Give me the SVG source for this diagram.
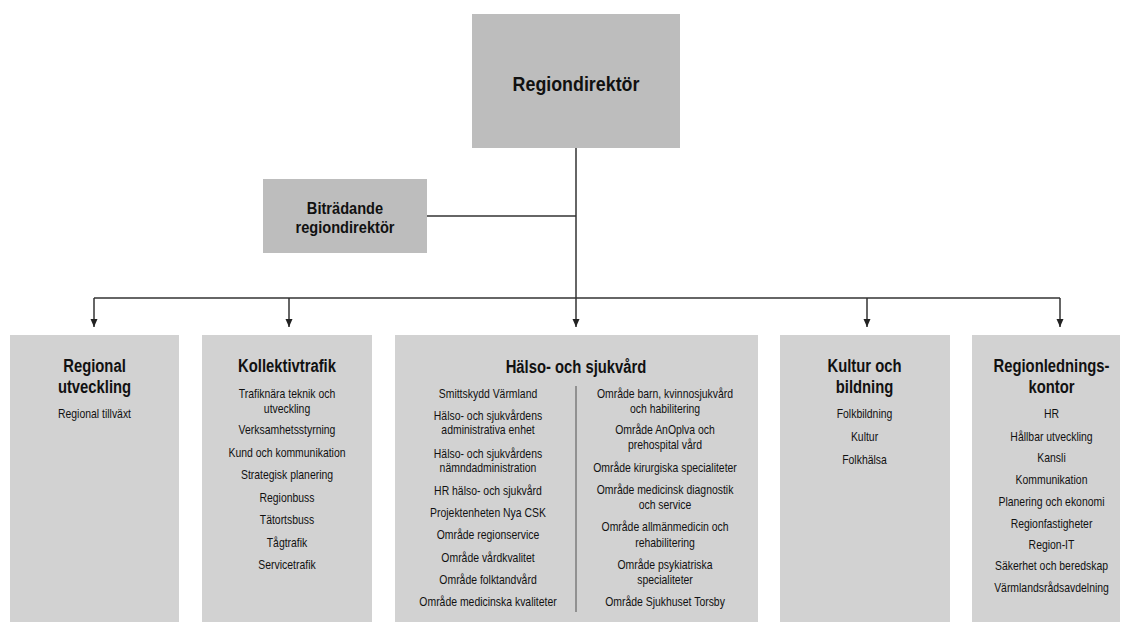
<svg xmlns="http://www.w3.org/2000/svg" width="1129" height="622" viewBox="0 0 1129 622">
<style>
.top{fill:#bdbdbd}
.box{fill:#d2d2d2}
.c{fill:none;stroke:#333;stroke-width:1.5}
text{font-family:"Liberation Sans",Arial,sans-serif;fill:#111;text-anchor:middle}
.t1{font-size:21px;font-weight:bold}
.t2{font-size:17px;font-weight:bold}
.h{font-size:19px;font-weight:bold}
.s{font-size:12.5px}
</style>
<defs>
<marker id="arr" markerUnits="userSpaceOnUse" markerWidth="8" markerHeight="8" refX="8" refY="3.5" orient="auto">
<path d="M0,0 L8,3.5 L0,7 z" fill="#222"/>
</marker>
</defs>
<rect width="1129" height="622" fill="#fff"/>
<g id="connectors">
<path class="c" d="M576 148 V327" marker-end="url(#arr)"/>
<path class="c" d="M427 216 H576"/>
<path class="c" d="M94 298 H1060"/>
<path class="c" d="M94 298 V327" marker-end="url(#arr)"/>
<path class="c" d="M289 298 V327" marker-end="url(#arr)"/>
<path class="c" d="M867 298 V327" marker-end="url(#arr)"/>
<path class="c" d="M1060 298 V327" marker-end="url(#arr)"/>
</g>
<g id="regiondirektor">
<rect class="top" x="472" y="14" width="208" height="134"/>
<g transform="translate(576,0) scale(0.85,1)"><text class="t1" x="0" y="91.5">Regiondirektör</text></g>
</g>
<g id="bitradande">
<rect class="top" x="263" y="179" width="164" height="74"/>
<g transform="translate(345,0) scale(0.86,1)">
<text class="t2" x="0" y="214.3">Biträdande</text>
<text class="t2" x="0" y="232.7">regiondirektör</text>
</g>
</g>
<g id="regional-utveckling">
<rect class="box" x="10" y="335" width="169" height="287"/>
<g transform="translate(94.5,0) scale(0.78,1)">
<text class="h" x="0" y="372">Regional</text>
<text class="h" x="0" y="393.5">utveckling</text>
</g>
<g transform="translate(94.5,0) scale(0.835,1)">
<text class="s" x="0" y="418.4">Regional tillväxt</text>
</g>
</g>
<g id="kollektivtrafik">
<rect class="box" x="202" y="335" width="170" height="287"/>
<g transform="translate(287,0) scale(0.78,1)">
<text class="h" x="0" y="372">Kollektivtrafik</text>
</g>
<g transform="translate(287,0) scale(0.835,1)">
<text class="s" x="0" y="397.7">Trafiknära teknik och</text>
<text class="s" x="0" y="413.1">utveckling</text>
<text class="s" x="0" y="434.4">Verksamhetsstyrning</text>
<text class="s" x="0" y="457.1">Kund och kommunikation</text>
<text class="s" x="0" y="479.4">Strategisk planering</text>
<text class="s" x="0" y="501.7">Regionbuss</text>
<text class="s" x="0" y="524.4">Tätortsbuss</text>
<text class="s" x="0" y="546.7">Tågtrafik</text>
<text class="s" x="0" y="568.7">Servicetrafik</text>
</g>
</g>
<g id="halso-och-sjukvard">
<rect class="box" x="395" y="335" width="363" height="287"/>
<line x1="576" y1="386" x2="576" y2="612" stroke="#666" stroke-width="1.2"/>
<g transform="translate(576,0) scale(0.78,1)">
<text class="h" x="0" y="373">Hälso- och sjukvård</text>
</g>
<g transform="translate(488,0) scale(0.835,1)">
<text class="s" x="0" y="397.7">Smittskydd Värmland</text>
<text class="s" x="0" y="420.4">Hälso- och sjukvårdens</text>
<text class="s" x="0" y="434.4">administrativa enhet</text>
<text class="s" x="0" y="457.7">Hälso- och sjukvårdens</text>
<text class="s" x="0" y="471.7">nämndadministration</text>
<text class="s" x="0" y="495.1">HR hälso- och sjukvård</text>
<text class="s" x="0" y="517.1">Projektenheten Nya CSK</text>
<text class="s" x="0" y="539.4">Område regionservice</text>
<text class="s" x="0" y="562.1">Område vårdkvalitet</text>
<text class="s" x="0" y="583.7">Område folktandvård</text>
<text class="s" x="0" y="606.1">Område medicinska kvaliteter</text>
</g>
<g transform="translate(665,0) scale(0.835,1)">
<text class="s" x="0" y="397.7">Område barn, kvinnosjukvård</text>
<text class="s" x="0" y="413.4">och habilitering</text>
<text class="s" x="0" y="434.4">Område AnOplva och</text>
<text class="s" x="0" y="449.4">prehospital vård</text>
<text class="s" x="0" y="472.1">Område kirurgiska specialiteter</text>
<text class="s" x="0" y="494.4">Område medicinsk diagnostik</text>
<text class="s" x="0" y="509.4">och service</text>
<text class="s" x="0" y="531.1">Område allmänmedicin och</text>
<text class="s" x="0" y="546.7">rehabilitering</text>
<text class="s" x="0" y="569.4">Område psykiatriska</text>
<text class="s" x="0" y="584.4">specialiteter</text>
<text class="s" x="0" y="606.1">Område Sjukhuset Torsby</text>
</g>
</g>
<g id="kultur-och-bildning">
<rect class="box" x="780" y="335" width="170" height="287"/>
<g transform="translate(864.5,0) scale(0.78,1)">
<text class="h" x="0" y="372">Kultur och</text>
<text class="h" x="0" y="393.5">bildning</text>
</g>
<g transform="translate(864.5,0) scale(0.835,1)">
<text class="s" x="0" y="418.4">Folkbildning</text>
<text class="s" x="0" y="441.1">Kultur</text>
<text class="s" x="0" y="463.7">Folkhälsa</text>
</g>
</g>
<g id="regionledningskontor">
<rect class="box" x="972" y="335" width="148" height="287"/>
<g transform="translate(1051.5,0) scale(0.78,1)">
<text class="h" x="0" y="372">Regionlednings-</text>
<text class="h" x="0" y="393.5">kontor</text>
</g>
<g transform="translate(1051.5,0) scale(0.835,1)">
<text class="s" x="0" y="418.4">HR</text>
<text class="s" x="0" y="441.1">Hållbar utveckling</text>
<text class="s" x="0" y="462.1">Kansli</text>
<text class="s" x="0" y="484.4">Kommunikation</text>
<text class="s" x="0" y="506.1">Planering och ekonomi</text>
<text class="s" x="0" y="527.7">Regionfastigheter</text>
<text class="s" x="0" y="549.4">Region-IT</text>
<text class="s" x="0" y="570.4">Säkerhet och beredskap</text>
<text class="s" x="0" y="591.7">Värmlandsrådsavdelning</text>
</g>
</g>
</svg>
